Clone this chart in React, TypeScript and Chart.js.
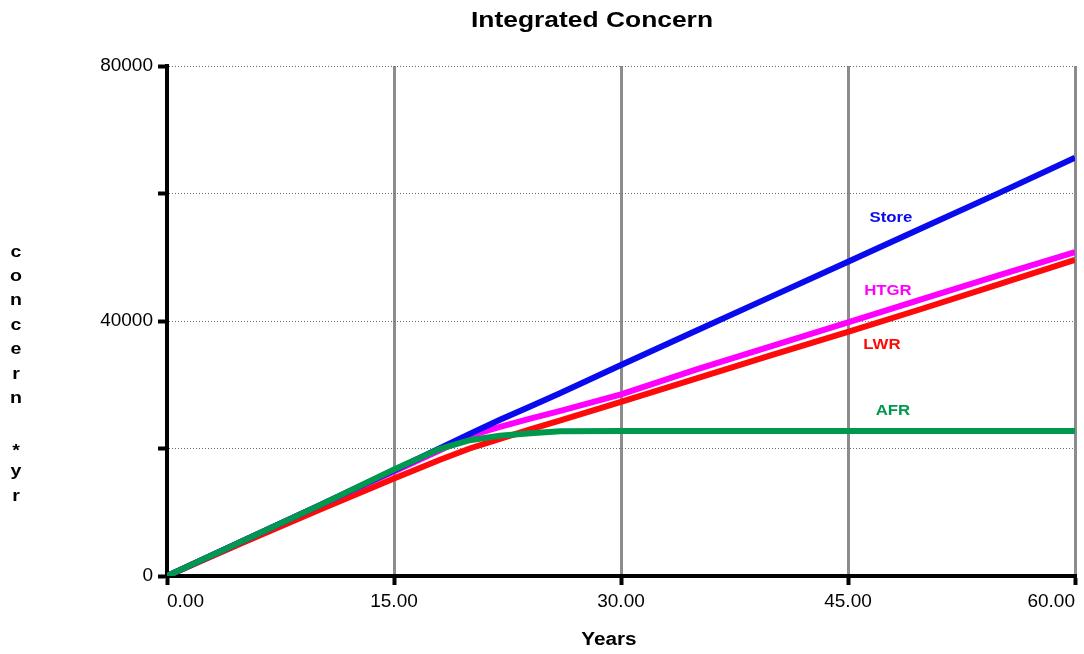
import React, { useEffect, useRef } from "react";
import { Chart, registerables } from "chart.js";

Chart.register(...registerables);

const TITLE = "Integrated Concern";
const X_TITLE = "Years";
const Y_TITLE_LINES = ["c", "o", "n", "c", "e", "r", "n", "", "*", "y", "r"];

const years = [0, 5, 10, 15, 18, 20, 22, 24, 26, 30, 35, 40, 45, 50, 55, 60];
const storeValues = [0, 5500, 11000, 16600, 20000, 22300, 24500, 26600, 28700, 33100, 38500, 43900, 49300, 54700, 60100, 65600];
const htgrValues = [0, 5500, 11000, 16400, 19700, 22000, 23400, 24700, 25900, 28500, 32400, 36100, 39800, 43500, 47200, 50800];
const lwrValues = [0, 5200, 10300, 15300, 18200, 20000, 21500, 23000, 24400, 27300, 31000, 34700, 38300, 42000, 45800, 49600];
const afrValues = [0, 5500, 11000, 16700, 19900, 21300, 22000, 22400, 22700, 22750, 22750, 22750, 22750, 22750, 22750, 22750];

const seriesNames = ["AFR", "Store", "HTGR", "LWR"];
const seriesColors = ["#00984c", "#0a0aee", "#ff00ff", "#ff0a0a"];
const seriesData = [afrValues, storeValues, htgrValues, lwrValues];

// in-chart series labels (data coordinates)
const labelYears = [47.97, 47.84, 47.64, 47.24];
const labelValues = [25880, 56100, 44700, 36235];

const xTicks = [0, 15, 30, 45, 60];
const yLabeledTicks = [0, 40000, 80000];

const FONT = "Arial, 'Liberation Sans', sans-serif";

function drawStretched(ctx: CanvasRenderingContext2D, text: string, cx: number, cy: number, font: string, color: string, sx: number) {
  ctx.save();
  ctx.translate(cx, cy);
  ctx.scale(sx, 1);
  ctx.font = font;
  ctx.fillStyle = color;
  ctx.textAlign = "center";
  ctx.textBaseline = "middle";
  ctx.fillText(text, 0, 0);
  ctx.restore();
}

const textPlugin = {
  id: "textPlugin",
  afterDraw(chart: any) {
    const ctx: CanvasRenderingContext2D = chart.ctx;
    const xs = chart.scales.x;
    const ys = chart.scales.y;
    drawStretched(ctx, TITLE, 592, 21, `bold 22px ${FONT}`, "#000", 1.2);
    drawStretched(ctx, X_TITLE, 609, 640, `bold 18px ${FONT}`, "#000", 1.15);
    Y_TITLE_LINES.forEach((ch, i) => {
      if (ch) drawStretched(ctx, ch, 16, 252 + i * 24.4 + (ch === "*" ? 4 : 0), `bold 17px ${FONT}`, "#000", 1.15);
    });
    seriesNames.forEach((name, i) => {
      const px = xs.getPixelForValue(labelYears[i]);
      const py = ys.getPixelForValue(labelValues[i]);
      drawStretched(ctx, name, px, py, `bold 14px ${FONT}`, seriesColors[i], 1.2);
    });
  },
};

export default function App() {
  const ref = useRef<HTMLCanvasElement | null>(null);
  useEffect(() => {
    document.body.style.margin = "0";
    const canvas = ref.current!;
    const chart = new Chart(canvas, {
      type: "line",
      data: {
        datasets: seriesNames.map((name, i) => ({
          label: name,
          data: years.map((yr, j) => ({ x: yr, y: seriesData[i][j] })),
          borderColor: seriesColors[i],
          backgroundColor: seriesColors[i],
          borderWidth: 6,
          pointRadius: 0,
          tension: 0,
          fill: false,
        })),
      },
      options: {
        responsive: false,
        animation: false,
        layout: { padding: { left: 0, top: 66, right: 9, bottom: 0 } },
        plugins: {
          legend: { display: false },
          title: { display: false },
          tooltip: { enabled: false },
        },
        scales: {
          x: {
            type: "linear",
            min: 0,
            max: 60,
            afterFit: (s: any) => {
              s.height = 78;
            },
            afterBuildTicks: (s: any) => {
              s.ticks = xTicks.map((v) => ({ value: v }));
            },
            ticks: {
              align: "inner",
              padding: 5,
              color: "#000",
              font: { family: FONT, size: 19 },
              callback: (v: any) => Number(v).toFixed(2),
            },
            grid: {
              color: (c: any) => (c.tick && c.tick.value === 0 ? "rgba(0,0,0,0)" : "#8c8c8c"),
              lineWidth: 3,
              drawTicks: true,
              tickLength: 9,
              tickColor: "#000",
              tickWidth: 4,
            },
            border: { display: true, color: "#000", width: 4 },
          },
          y: {
            type: "linear",
            min: 0,
            max: 80000,
            afterFit: (s: any) => {
              s.width = 167;
            },
            ticks: {
              stepSize: 20000,
              padding: 5,
              color: "#000",
              font: { family: FONT, size: 19 },
              callback: (v: any) => (yLabeledTicks.includes(Number(v)) ? String(v) : ""),
            },
            grid: {
              color: (c: any) => (c.tick && c.tick.value === 0 ? "rgba(0,0,0,0)" : "#6a6a6a"),
              lineWidth: 1,
              drawTicks: true,
              tickLength: 9,
              tickColor: "#000",
              tickWidth: 4,
              tickBorderDash: [],
            },
            border: { display: true, color: "#000", width: 4, dash: [1, 2] },
          },
        },
      },
      plugins: [textPlugin],
    } as any);
    return () => chart.destroy();
  }, []);
  return (
    <div style={{ position: "absolute", left: 0, top: 0, width: 1084, height: 654, background: "#fff" }}>
      <canvas ref={ref} width={1084} height={654} style={{ display: "block" }} />
    </div>
  );
}
